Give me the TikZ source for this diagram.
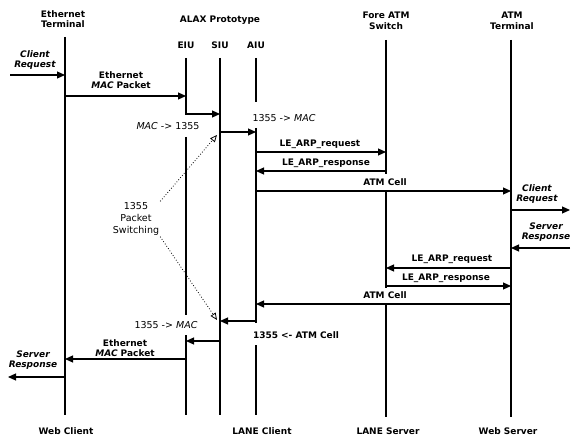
\documentclass[tikz,border=0pt]{standalone}
\usepackage{fontspec}
\setmainfont{DejaVu Sans}
\usetikzlibrary{arrows.meta,positioning}

\begin{document}
\begin{tikzpicture}[
  x=1pt, y=-1pt,
  life/.style={
    line width=2.4pt
  },
  msg/.style={
    -{Triangle[length=8pt,width=7pt]},
    line width=1.2pt
  },
  hint/.style={
    dotted,
    line width=0.8pt,
    -{Triangle[open,length=7pt,width=6pt]}
  },
  head/.style={
    font=\fontsize{9}{10.5}\selectfont\bfseries,
    align=center,
    inner sep=1pt
  },
  lbl/.style={
    head
  },
  note/.style={
    font=\fontsize{9.5}{12}\selectfont,
    align=center,
    inner sep=1pt
  }
]
\useasboundingbox (0,0) rectangle (579,441);

% Headers
\node[head] (eth) at (63,19) {Ethernet\\Terminal};
\node[head] (alax) at (220,20) {ALAX Prototype};
\node[head] (eiu) at (186,45) {EIU};
\node[head] (siu) at (220,45) {SIU};
\node[head] (aiu) at (256,45) {AIU};
\node[head] (fore) at (386,21) {Fore ATM\\Switch};
\node[head] (atm) at (512,21) {ATM\\Terminal};

% Footers
\node[head] (webc) at (66,431) {Web Client};
\node[head] (lanec) at (262,431) {LANE Client};
\node[head] (lanes) at (388,431) {LANE Server};
\node[head] (webs) at (508,431) {Web Server};

% Lifeline positions
\coordinate (Leth) at (65,0);
\coordinate (Leiu) at (186,0);
\coordinate (Lsiu) at (220,0);
\coordinate (Laiu) at (256,0);
\coordinate (Lfore) at (386,0);
\coordinate (Latm) at (511,0);

% Lifelines
\draw[life] (65,37) -- (65,415);
\draw[life] (186,58) -- (186,115);
\draw[life] (186,137) -- (186,315);
\draw[life] (186,335) -- (186,415);
\draw[life] (220,58) -- (220,415);
\draw[life] (256,58) -- (256,102);
\draw[life] (256,128) -- (256,323);
\draw[life] (256,345) -- (256,415);
\draw[life] (386,40) -- (386,174);
\draw[life] (386,191) -- (386,288);
\draw[life] (386,304) -- (386,417);
\draw[life] (511,40) -- (511,417);

% Free ends
\coordinate (inL) at (10,75);
\coordinate (outR) at (570,210);
\coordinate (inR) at (570,248);
\coordinate (outL) at (8,377);

% Request path
\draw[msg] (inL) -- (Leth |- inL);
\node[lbl] (creq) at (35,60) {\itshape Client\\\itshape Request};
\draw[msg] (Leth |- 0,96) -- (Leiu |- 0,96);
\node[lbl] (emac1) at (121,80) {Ethernet\\\itshape MAC\upshape{} Packet};
\draw[msg] (Leiu |- 0,114) -- (Lsiu |- 0,114);
\node[note] (m2x) at (168,126) {\itshape MAC\upshape{} -> 1355};
\draw[msg] (Lsiu |- 0,132) -- (Laiu |- 0,132);
\node[note] (x2m) at (284,118) {1355 -> \itshape MAC};
\draw[msg] (Laiu |- 0,152) -- (Lfore |- 0,152);
\node[lbl] (arpq1) at (320,144) {LE\_ARP\_request};
\draw[msg] (Lfore |- 0,171) -- (Laiu |- 0,171);
\node[lbl] (arpr1) at (326,163) {LE\_ARP\_response};
\draw[msg] (Laiu |- 0,191) -- (Latm |- 0,191);
\node[lbl] (cell1) at (385,182) {ATM Cell};
\draw[msg] (Latm |- outR) -- (outR);
\node[lbl] (creq2) at (537,194) {\itshape Client\\\itshape Request};

% Response path
\draw[msg] (inR) -- (Latm |- inR);
\node[lbl] (sres2) at (546,232) {\itshape Server\\\itshape Response};
\draw[msg] (Latm |- 0,268) -- (Lfore |- 0,268);
\node[lbl] (arpq2) at (452,259) {LE\_ARP\_request};
\draw[msg] (Lfore |- 0,286) -- (Latm |- 0,286);
\node[lbl] (arpr2) at (446,278) {LE\_ARP\_response};
\draw[msg] (Latm |- 0,304) -- (Laiu |- 0,304);
\node[lbl] (cell2) at (385,295) {ATM Cell};
\draw[msg] (Laiu |- 0,321) -- (Lsiu |- 0,321);
\node[lbl] (x2c) at (296,335) {1355 <- ATM Cell};
\draw[msg] (Lsiu |- 0,341) -- (Leiu |- 0,341);
\node[note] (x2m2) at (166,325) {1355 -> \itshape MAC};
\draw[msg] (Leiu |- 0,359) -- (Leth |- 0,359);
\node[lbl] (emac2) at (125,348) {Ethernet\\\itshape MAC\upshape{} Packet};
\draw[msg] (Leth |- outL) -- (outL);
\node[lbl] (sres) at (33,360) {\itshape Server\\\itshape Response};

% Switching note
\node[note] (sw) at (136,219) {1355\\Packet\\Switching};
\coordinate (swtop) at (217,135);
\coordinate (swbot) at (217,320);
\draw[hint] (sw.north east) -- (swtop);
\draw[hint] (sw.south east) -- (swbot);

\end{tikzpicture}
\end{document}
